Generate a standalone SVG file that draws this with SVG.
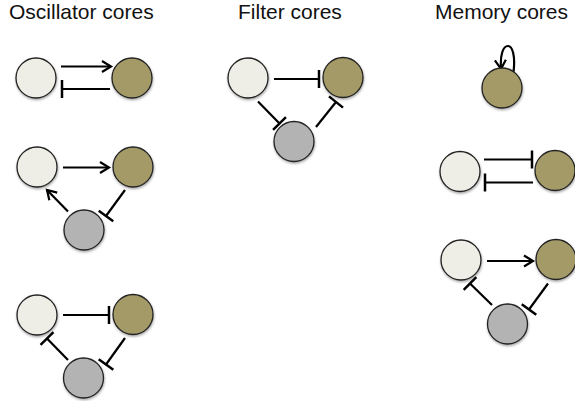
<svg xmlns="http://www.w3.org/2000/svg" width="575" height="401" viewBox="0 0 575 401">
<style>
.t{font-family:"Liberation Sans",Arial,sans-serif;font-size:21px;fill:#111}
.n{stroke:#222;stroke-width:1.3}
.l{fill:#EEEEE6}.o{fill:#A39A68}.g{fill:#B3B3B3}
.e{fill:none;stroke:#000;stroke-width:2.2}
.a{marker-end:url(#arr)}.i{marker-end:url(#inh)}
</style>
<defs>
<filter id="sh" x="-30%" y="-30%" width="160%" height="160%"><feDropShadow dx="0.5" dy="1.5" stdDeviation="1.2" flood-color="#000" flood-opacity="0.35"/></filter>
<marker id="arr" viewBox="-12 -8 14 16" refX="0" refY="0" markerWidth="14" markerHeight="16" markerUnits="userSpaceOnUse" orient="auto" overflow="visible"><path d="M-9,-5.5 L0,0 L-9,5.5" fill="none" stroke="#000" stroke-width="2.2"/></marker>
<marker id="inh" viewBox="-2 -10 4 20" refX="0" refY="0" markerWidth="4" markerHeight="20" markerUnits="userSpaceOnUse" orient="auto" overflow="visible"><path d="M0,-9 V9" stroke="#000" stroke-width="2.5"/></marker>
</defs>
<g id="titles">
<text class="t" x="9" y="19">Oscillator cores</text>
<text class="t" x="238" y="19">Filter cores</text>
<text class="t" x="435" y="19">Memory cores</text>
</g>
<g id="connectors">
<line class="e a" x1="61" y1="66.5" x2="111" y2="66.5"/>
<line class="e i" x1="110" y1="89" x2="62" y2="89"/>
<line class="e a" x1="63" y1="167.5" x2="109" y2="167.5"/>
<line class="e i" x1="125" y1="190" x2="106" y2="216"/>
<line class="e a" x1="68" y1="211.5" x2="47" y2="190"/>
<line class="e i" x1="63" y1="315" x2="109" y2="315"/>
<line class="e i" x1="125" y1="338" x2="106" y2="364.5"/>
<line class="e i" x1="68" y1="360" x2="47" y2="338.5"/>
<line class="e i" x1="274" y1="79" x2="319" y2="79"/>
<line class="e i" x1="258" y1="101.5" x2="279.5" y2="123.5"/>
<line class="e i" x1="316" y1="127" x2="336" y2="102"/>
<path class="e a" d="M513.5,72 C515.5,56 512.5,46 508,46 C503,46 500,55 501,69"/>
<line class="e i" x1="484" y1="159.5" x2="532" y2="159.5"/>
<line class="e i" x1="533" y1="182.5" x2="485" y2="182.5"/>
<line class="e a" x1="487" y1="261" x2="533" y2="261"/>
<line class="e i" x1="548" y1="283.5" x2="529" y2="309.5"/>
<line class="e i" x1="492" y1="305" x2="470" y2="283.5"/>
</g>
<g filter="url(#sh)">
<g id="osc1-a"><circle class="n l" cx="36" cy="78" r="20"/></g>
<g id="osc1-b"><circle class="n o" cx="132" cy="78" r="20"/></g>
<g id="osc2-a"><circle class="n l" cx="37" cy="167" r="20"/></g>
<g id="osc2-b"><circle class="n o" cx="133" cy="167" r="20"/></g>
<g id="osc2-c"><circle class="n g" cx="84" cy="230" r="20"/></g>
<g id="osc3-a"><circle class="n l" cx="37" cy="315" r="20"/></g>
<g id="osc3-b"><circle class="n o" cx="133" cy="314.5" r="20"/></g>
<g id="osc3-c"><circle class="n g" cx="83.5" cy="378" r="20"/></g>
<g id="fil-a"><circle class="n l" cx="248" cy="78" r="20"/></g>
<g id="fil-b"><circle class="n o" cx="343" cy="77.5" r="20"/></g>
<g id="fil-c"><circle class="n g" cx="294" cy="141.5" r="20"/></g>
<g id="mem1-b"><circle class="n o" cx="502" cy="88" r="20"/></g>
<g id="mem2-a"><circle class="n l" cx="460" cy="171.5" r="20"/></g>
<g id="mem2-b"><circle class="n o" cx="555" cy="170.5" r="20"/></g>
<g id="mem3-a"><circle class="n l" cx="461" cy="260" r="20"/></g>
<g id="mem3-b"><circle class="n o" cx="556" cy="259.5" r="20"/></g>
<g id="mem3-c"><circle class="n g" cx="507.5" cy="324" r="20"/></g>
</g>
</svg>
